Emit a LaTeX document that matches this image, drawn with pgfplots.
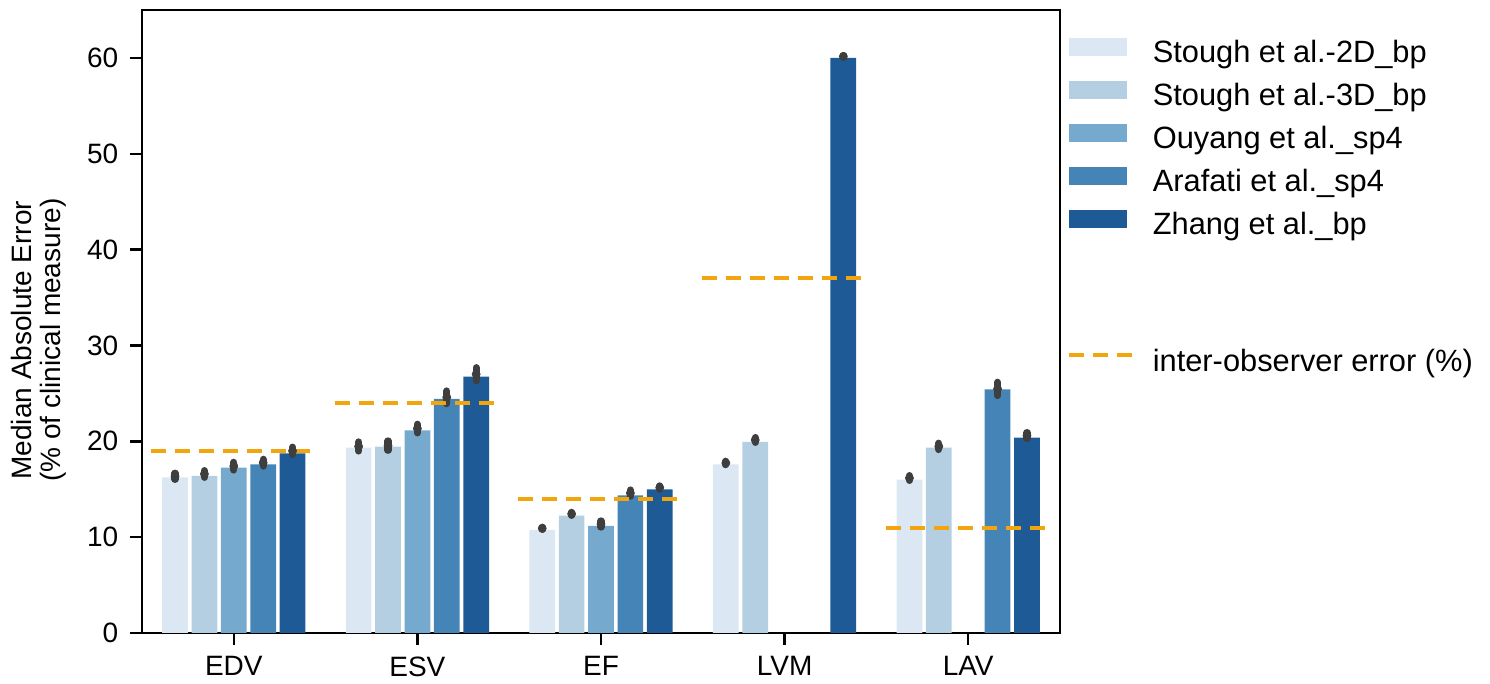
\documentclass[border=0pt]{standalone}
\usepackage{pgfplots}
\pgfplotsset{compat=1.18}
\usepackage{pgfplotstable}
\usepackage{fontspec}
\setmainfont{Liberation Sans}
\definecolor{cA}{RGB}{219,232,243}
\definecolor{cB}{RGB}{180,207,226}
\definecolor{cC}{RGB}{117,169,205}
\definecolor{cD}{RGB}{69,132,182}
\definecolor{cE}{RGB}{30,91,150}
\definecolor{ebg}{RGB}{62,62,62}
\definecolor{obs}{RGB}{242,165,12}

\pgfplotsset{
  bar legend/.style={legend image code/.code={\fill[##1] (0bp,-0.5bp) rectangle (29bp,8.5bp);}},
  obs legend/.style={legend image code/.code={\draw[##1] (0bp,4bp) -- (33bp,4bp); \path (0bp,12bp) -- (0bp,12bp);}},
  ebars/.style={forget plot, only marks, mark=none, color=ebg,
    error bars/.cd, y dir=both, y explicit, error mark=none,
    error bar style={draw=ebg, line width=3.6bp, line cap=round}},
}

% x = category index + dodge offset, y = bar, c = error-bar centre, h = half length
\pgfplotstableread{
x y c h
-0.32 16.25 16.35 0.32
0.68 19.34 19.46 0.47
1.68 10.75 10.92 0.11
2.68 17.60 17.74 0.18
3.68 16.00 16.17 0.25
}\sA
\pgfplotstableread{
x y c h
-0.16 16.40 16.59 0.35
0.84 19.45 19.55 0.49
1.84 12.24 12.43 0.16
2.84 19.95 20.14 0.25
3.84 19.35 19.47 0.33
}\sB
\pgfplotstableread{
x y c h
0.00 17.25 17.41 0.40
1.00 21.15 21.33 0.45
2.00 11.17 11.37 0.32
}\sC
\pgfplotstableread{
x y c h
0.16 17.60 17.77 0.35
1.16 24.42 24.59 0.66
2.16 14.36 14.60 0.32
4.16 25.43 25.47 0.69
}\sD
\pgfplotstableread{
x y c h
0.32 18.75 19.00 0.39
1.32 26.75 27.00 0.68
2.32 14.99 15.17 0.18
3.32 60.00 60.16 0.09
4.32 20.38 20.60 0.31
}\sE

\begin{document}
\fontsize{14bp}{16.8bp}\selectfont
\begin{tikzpicture}
\useasboundingbox (-71bp,-25.5bp) rectangle (674bp,316.5bp);
\begin{axis}[
  at={(0,0)}, anchor=south west,
  scale only axis,
  width=459bp, height=311.5bp,
  xmin=-0.5, xmax=4.5, ymin=0, ymax=65,
  xtick={0,1,2,3,4},
  xticklabels={EDV,ESV,EF,LVM,LAV},
  ytick={0,10,20,30,40,50,60},
  tick align=outside, tick pos=left,
  major tick length=6bp,
  every tick/.style={black, line width=1.2bp},
  axis line style={line width=1.2bp, black},
  /pgf/number format/assume math mode=true,
  yticklabel style={xshift=-1bp},
  xticklabel style={yshift=-1bp},
  ylabel={Median Absolute Error\\(\% of clinical measure)},
  ylabel style={align=center, at={(ticklabel cs:0.47)}, yshift=1bp,
    font=\fontsize{14bp}{14.3bp}\selectfont},
  unbounded coords=jump,
  legend style={draw=none, fill=none, at={(1.0005,0.9625)}, anchor=north west,
    nodes={inner sep=1bp, text height=11bp, text depth=3.3bp},
    row sep=4.85bp, font=\fontsize{15.4bp}{18bp}\selectfont},
  legend cell align=left,
  /tikz/every odd column/.append style={column sep=7bp},
]
\addplot[ybar, bar width=0.14, bar shift=0pt, fill=cA, draw=none, bar legend] table[x=x,y=y]{\sA};
\addlegendentry{Stough et al.-2D\_bp}
\addplot[ybar, bar width=0.14, bar shift=0pt, fill=cB, draw=none, bar legend] table[x=x,y=y]{\sB};
\addlegendentry{Stough et al.-3D\_bp}
\addplot[ybar, bar width=0.14, bar shift=0pt, fill=cC, draw=none, bar legend] table[x=x,y=y]{\sC};
\addlegendentry{Ouyang et al.\_sp4}
\addplot[ybar, bar width=0.14, bar shift=0pt, fill=cD, draw=none, bar legend] table[x=x,y=y]{\sD};
\addlegendentry{Arafati et al.\_sp4}
\addplot[ybar, bar width=0.14, bar shift=0pt, fill=cE, draw=none, bar legend] table[x=x,y=y]{\sE};
\addlegendentry{Zhang et al.\_bp}

\addplot[ebars] table[x=x, y=c, y error=h]{\sA};
\addplot[ebars] table[x=x, y=c, y error=h]{\sB};
\addplot[ebars] table[x=x, y=c, y error=h]{\sC};
\addplot[ebars] table[x=x, y=c, y error=h]{\sD};
\addplot[ebars] table[x=x, y=c, y error=h]{\sE};

\addlegendimage{empty legend}\addlegendentry{}
\addlegendimage{empty legend}\addlegendentry{}

\addplot[obs, line width=2bp, dash pattern=on 7.5bp off 4.5bp, obs legend]
  coordinates {(-0.45,19) (0.45,19) (0.5,nan)
               (0.55,24) (1.45,24) (1.5,nan)
               (1.55,14) (2.45,14) (2.5,nan)
               (2.55,37) (3.45,37) (3.5,nan)
               (3.55,11) (4.45,11)};
\addlegendentry{inter-observer error (\%)}
\end{axis}
\end{tikzpicture}
\end{document}
